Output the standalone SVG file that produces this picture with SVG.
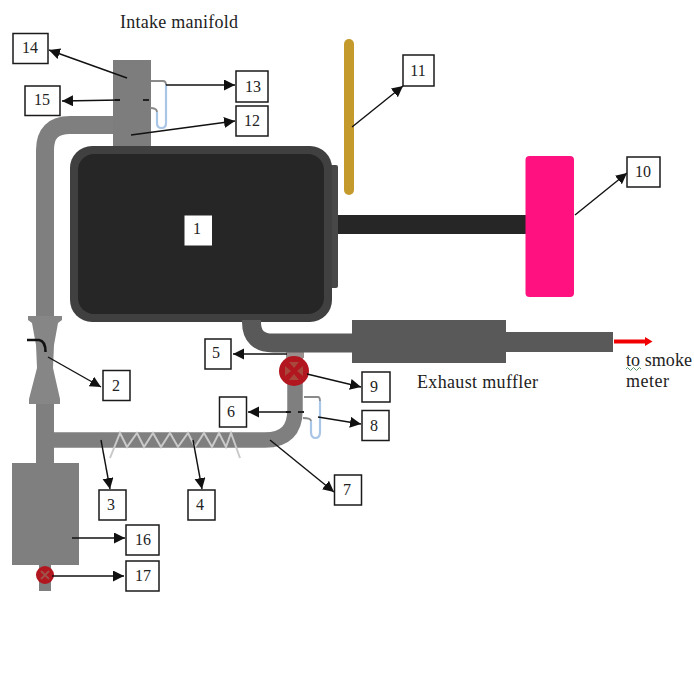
<svg xmlns="http://www.w3.org/2000/svg" width="694" height="684" viewBox="0 0 694 684">
<style>
text{font-family:"Liberation Serif","Times New Roman",serif;fill:#222}
.lbl{font-size:16px;text-anchor:middle}
.cap{font-size:18px}
.box{fill:#fff;stroke:#1a1a1a;stroke-width:1.5}
.pipe{fill:none;stroke:#7f7f7f}
.ex{fill:none;stroke:#595959}
.arr{fill:none;stroke:#111;stroke-width:1.4;marker-end:url(#ah)}
.tube{fill:none;stroke:#a9c6e6;stroke-width:2.2}
.tg{fill:none;stroke:#8a8a8a;stroke-width:1.8}
.dash{stroke:#222;stroke-width:2.2}
.vx{fill:#a8483c}
</style>
<defs>
<marker id="ah" markerUnits="userSpaceOnUse" markerWidth="13" markerHeight="13" refX="11" refY="5.500" orient="auto"><path d="M0,0L11,5.500L0,11z" fill="#111"/></marker>
</defs>
<rect width="694" height="684" fill="#fff"/>
<g id="equipment">
<path class="pipe" stroke-width="18" d="M45,320V150Q45,125 70,125H120"/>
<path class="pipe" stroke-width="18" d="M45,400V470"/>
<path class="pipe" stroke-width="15.500" d="M50,440H265Q295,440 295,410V352"/>
<path d="M295,352V358" stroke="#9a8f8f" stroke-width="18"/>
<rect x="113" y="60" width="38" height="90" fill="#7d7d7d"/>
<path d="M28,316H62V320L58,323L54,345L53,368L60,399V404H29V399L37,368L36,345L32,323L28,320z" fill="#868686"/>
<rect x="12" y="463" width="67" height="102" fill="#7f7f7f"/>
<rect x="39" y="565" width="12" height="26" fill="#7f7f7f"/>
<rect x="325" y="165" width="13" height="123" rx="2" fill="#474747"/>
<rect x="338" y="215" width="190" height="19" fill="#262626"/>
<rect x="344" y="39" width="10" height="156" rx="5" fill="#c49a2c"/>
<rect x="525.500" y="156" width="48.500" height="141" rx="4" fill="#ff1280"/>
<rect x="70" y="146" width="262" height="176" rx="22" fill="#404040"/>
<rect x="78" y="154" width="246" height="160" rx="16" fill="#262626"/>
<path class="ex" stroke-width="19" d="M251.500,320V322Q251.500,343 273,343H360"/>
<rect x="352" y="320" width="154" height="43" fill="#595959"/>
<rect x="506" y="332" width="107" height="20" fill="#595959"/>
<path d="M110,458L120,433L127,447L137,433L144,447L153,433L161,447L170,433L178,447L188,433L195,447L204,433L212,447L219,433L226,447L231,433L240,458" fill="none" stroke="#c9c9c9" stroke-width="2"/>
<path d="M27,340H39Q45.500,341 45.500,352" fill="none" stroke="#111" stroke-width="2.500"/>
<path class="tg" d="M151,81H163Q166,81 166,85"/>
<path class="tube" d="M166,85V123Q166,128 161.500,128Q157,128 157,123V112"/>
<path class="tg" d="M157,112Q157,108 150,108"/>
<path class="tg" d="M304,397H318Q320,397 320,401"/>
<path class="tube" d="M320,401V432Q320,438 315.500,438Q311,438 311,432V421"/>
<path class="tg" d="M311,421Q311,418 303,418"/>
<path class="dash" d="M115,100H120M143,100H149M286,412H291M298,412H304"/>
<circle cx="294" cy="371" r="15" fill="#b2161f"/>
<path class="vx" d="M294,368L289,362H299zM294,374L289,380H299zM291,371L285,366V376zM297,371L303,366V376z"/>
<circle cx="45" cy="575" r="9" fill="#b2161f"/>
<path d="M41,571L49,579M49,571L41,579" stroke="#a0524a" stroke-width="2"/>
<path d="M614,341.500H646" stroke="#f00000" stroke-width="4"/>
<path d="M645,337L652.500,341.500L645,346z" fill="#f00000"/>
<path d="M626,369q1.500,-3 3,0t3,0t3,0t3,0t3,0" fill="none" stroke="#5b9a6b" stroke-width="1"/>
</g>
<g id="connectors">
<path class="arr" d="M127,78L49,50"/>
<path class="arr" d="M120,100L62,101"/>
<path class="arr" d="M166,85L235,85"/>
<path class="arr" d="M131,135L235,121"/>
<path class="arr" d="M48,357L101,387"/>
<path class="arr" d="M101,440L110,489"/>
<path class="arr" d="M193,440L202,489"/>
<path class="arr" d="M287,354L233,354"/>
<path class="arr" d="M290,412L248,412"/>
<path class="arr" d="M270,440L334,492"/>
<path class="arr" d="M318,417L361,424"/>
<path class="arr" d="M307,374L361,387"/>
<path class="arr" d="M72,538L125,538"/>
<path class="arr" d="M52,576L124,576"/>
<path class="arr" d="M352,127L403,86"/>
<path class="arr" d="M575,215L627,173"/>
</g>
<g id="n1"><rect class="box" x="184.500" y="215.500" width="27.500" height="30" style="stroke:none"/><text class="lbl" x="197" y="234">1</text></g>
<g id="n2"><rect class="box" x="103" y="370.500" width="27" height="30"/><text class="lbl" x="116" y="391">2</text></g>
<g id="n3"><rect class="box" x="99" y="490" width="27" height="30"/><text class="lbl" x="111" y="510">3</text></g>
<g id="n4"><rect class="box" x="188" y="490" width="27" height="30"/><text class="lbl" x="200" y="510">4</text></g>
<g id="n5"><rect class="box" x="205" y="339" width="26" height="30"/><text class="lbl" x="216" y="358">5</text></g>
<g id="n6"><rect class="box" x="219.500" y="397" width="27" height="30"/><text class="lbl" x="231" y="417">6</text></g>
<g id="n7"><rect class="box" x="334.500" y="475" width="27" height="30"/><text class="lbl" x="347" y="495">7</text></g>
<g id="n8"><rect class="box" x="362" y="410.500" width="27" height="30"/><text class="lbl" x="374" y="431">8</text></g>
<g id="n9"><rect class="box" x="362" y="372" width="28" height="30"/><text class="lbl" x="374" y="392">9</text></g>
<g id="n10"><rect class="box" x="627" y="157" width="33" height="30"/><text class="lbl" x="643" y="177">10</text></g>
<g id="n11"><rect class="box" x="403" y="55" width="31" height="31"/><text class="lbl" x="418" y="76">11</text></g>
<g id="n12"><rect class="box" x="236" y="106" width="32" height="30"/><text class="lbl" x="252" y="126">12</text></g>
<g id="n13"><rect class="box" x="236" y="71" width="32" height="31"/><text class="lbl" x="253" y="92">13</text></g>
<g id="n14"><rect class="box" x="13" y="33.500" width="35" height="30"/><text class="lbl" x="30" y="53">14</text></g>
<g id="n15"><rect class="box" x="25" y="86" width="35" height="29.500"/><text class="lbl" x="42" y="105">15</text></g>
<g id="n16"><rect class="box" x="126" y="525" width="33" height="30"/><text class="lbl" x="143" y="545">16</text></g>
<g id="n17"><rect class="box" x="126" y="561" width="33" height="30"/><text class="lbl" x="143" y="581">17</text></g>
<g id="captions">
<text class="cap" x="120" y="28" textLength="118">Intake manifold</text>
<text class="cap" x="417" y="388" textLength="121">Exhaust muffler</text>
<text class="cap" x="626" y="366" textLength="66">to smoke</text>
<text class="cap" x="626" y="387" textLength="43">meter</text>
</g>
</svg>
